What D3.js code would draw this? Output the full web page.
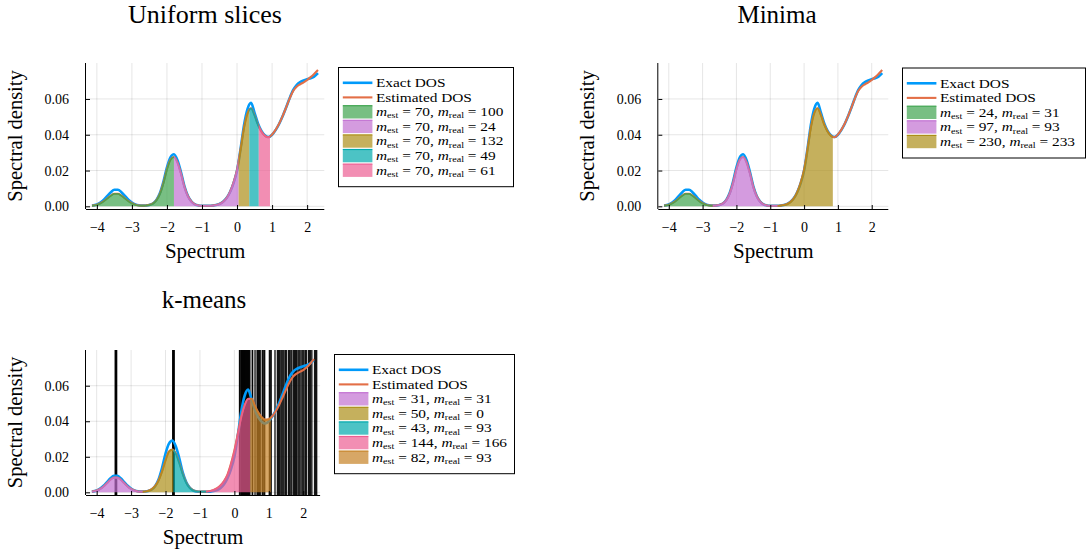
<!DOCTYPE html>
<html>
<head>
<meta charset="utf-8">
<script src="https://cdn.jsdelivr.net/npm/d3@7"></script>
<style>
  body { margin: 0; background: #fff; }
  svg text { font-family: "Liberation Serif", "Times New Roman", serif; fill: #000; }
</style>
</head>
<body>
<svg id="chart" width="1087" height="553"></svg>
<script>
// ---- data -----------------------------------------------------------------
const spectrum = [-4.14, -4.0, -3.9, -3.8, -3.7, -3.6, -3.5, -3.4, -3.3, -3.2, -3.1, -3.0,
  -2.9, -2.8, -2.7, -2.6, -2.5, -2.4, -2.3, -2.2, -2.1, -2.0, -1.9, -1.8, -1.7, -1.6, -1.5,
  -1.4, -1.3, -1.2, -1.1, -1.0, -0.9, -0.8, -0.7, -0.6, -0.5, -0.4, -0.3, -0.2, -0.1, 0.0,
  0.1, 0.2, 0.3, 0.4, 0.5, 0.6, 0.7, 0.8, 0.9, 1.0, 1.1, 1.2, 1.3, 1.4, 1.5, 1.6, 1.7, 1.8,
  1.9, 2.0, 2.1, 2.2, 2.31];

const exactDOS = [0.0004, 0.0010, 0.0021, 0.0037, 0.0058, 0.0079, 0.0093, 0.0093, 0.0079, 0.0058, 0.0037, 0.0021,
  0.0011, 0.0006, 0.0004, 0.0005, 0.0008, 0.0016, 0.0036, 0.0074, 0.0138, 0.0218, 0.0274, 0.0291, 0.0258, 0.0192, 0.0112,
  0.0058, 0.0027, 0.0011, 0.0005, 0.0003, 0.0003, 0.0003, 0.0004, 0.0007, 0.0013, 0.0025, 0.0046, 0.0080, 0.0130, 0.0200,
  0.0320, 0.0455, 0.0545, 0.0578, 0.0522, 0.0462, 0.0420, 0.0396, 0.0387, 0.0400, 0.0426, 0.0460, 0.0503, 0.0552, 0.0604, 0.0649, 0.0678, 0.0694,
  0.0703, 0.0710, 0.0716, 0.0725, 0.0744];

const estimatedDOS = [0.0004, 0.0009, 0.0017, 0.0029, 0.0045, 0.0060, 0.0070, 0.0070, 0.0060, 0.0045, 0.0029, 0.0017,
  0.0009, 0.0005, 0.0004, 0.0005, 0.0008, 0.0016, 0.0035, 0.0071, 0.0131, 0.0207, 0.0260, 0.0276, 0.0245, 0.0183, 0.0108,
  0.0056, 0.0026, 0.0011, 0.0005, 0.0003, 0.0003, 0.0003, 0.0004, 0.0007, 0.0013, 0.0025, 0.0046, 0.0081, 0.0133, 0.0205,
  0.0318, 0.0440, 0.0520, 0.0548, 0.0508, 0.0455, 0.0417, 0.0394, 0.0386, 0.0401, 0.0427, 0.0461, 0.0504, 0.0552, 0.0602, 0.0644, 0.0668, 0.0682,
  0.0693, 0.0706, 0.0722, 0.0740, 0.0762];

const estimatedDOSKmeans = [0.0004, 0.0010, 0.0019, 0.0033, 0.0052, 0.0071, 0.0083, 0.0083, 0.0071, 0.0052, 0.0033, 0.0019,
  0.0010, 0.0005, 0.0004, 0.0005, 0.0009, 0.0018, 0.0036, 0.0068, 0.0118, 0.0180, 0.0230, 0.0241, 0.0218, 0.0165, 0.0104,
  0.0056, 0.0027, 0.0012, 0.0006, 0.0004, 0.0004, 0.0005, 0.0008, 0.0014, 0.0024, 0.0040, 0.0064, 0.0100, 0.0160, 0.0235,
  0.0330, 0.0425, 0.0492, 0.0527, 0.0527, 0.0485, 0.0447, 0.0421, 0.0408, 0.0411, 0.0428, 0.0456, 0.0492, 0.0534, 0.0578, 0.0620, 0.0650, 0.0667,
  0.0678, 0.0688, 0.0704, 0.0724, 0.0750];

const xTicks = [-4, -3, -2, -1, 0, 1, 2];
const yTicks = [0.00, 0.02, 0.04, 0.06];

// slice boundaries and (estimated, real) eigenvalue counts per slice
const uniformEdges = [-4.14, -1.80, 0.045, 0.35, 0.62, 0.94];
const uniformCounts = [[70, 100], [70, 24], [70, 132], [70, 49], [70, 61]];

const minimaEdges = [-4.14, -2.70, -0.78, 0.85];
const minimaCounts = [[24, 31], [97, 93], [230, 233]];

const kmeansEdges = [-4.14, -2.66, -1.77, -0.82, 0.46, 1.06];
const kmeansCounts = [[31, 31], [50, 0], [43, 93], [144, 166], [82, 93]];

// positions marked with vertical lines in the k-means panel
const kmeansMarks = [-3.46, -3.45, -3.44, -3.43, -3.42, -1.79, -1.78, -1.77, -1.76, -1.75,
  0.15, 0.16, 0.19, 0.21, 0.22, 0.24, 0.25, 0.27, 0.28, 0.30, 0.31, 0.33, 0.34, 0.36, 0.37,
  0.39, 0.40, 0.42, 0.43, 0.45, 0.52, 0.53, 0.60, 0.66, 0.68, 0.70, 0.73, 0.75, 0.81, 0.83,
  0.86, 0.88, 1.02, 1.04, 1.07, 1.18, 1.25, 1.28, 1.31, 1.35, 1.38, 1.41, 1.44, 1.48, 1.51,
  1.57, 1.60, 1.64, 1.67, 1.72, 1.75, 1.78, 1.81, 1.85, 1.88, 1.91, 1.96, 1.99, 2.02, 2.06,
  2.09, 2.15, 2.18, 2.21, 2.25, 2.33, 2.36, 2.39];

// ---- styling ----------------------------------------------------------------
const C = {
  blue: "#009AFA", orange: "#E36F47", green: "#3EA44E", purple: "#C271D2",
  olive: "#AC8E18", teal: "#00A9AD", pink: "#ED5E93", brown: "#C68225"
};
const fillAlpha = 0.7;
const legendFont = 12.8;
const legendStretch = 1.2;

const svg = d3.select("#chart");
const defs = svg.append("defs");
let clipId = 0;

function addClip(x, y, w, h) {
  const id = "clip" + (clipId++);
  defs.append("clipPath").attr("id", id)
    .append("rect").attr("x", x).attr("y", y).attr("width", w).attr("height", h);
  return "url(#" + id + ")";
}

const fmtX = d => (d < 0 ? "\u2212" + Math.abs(d) : String(d));
const fmtY = d3.format(".2f");

function mathLabel(textSel, est, real) {
  const sub = (t) => textSel.append("tspan").attr("font-size", "66%").attr("dy", 2.2).text(t);
  textSel.append("tspan").attr("font-style", "italic").text("m");
  sub("est");
  textSel.append("tspan").attr("dy", -2.2).text(" = " + est + ", ");
  textSel.append("tspan").attr("font-style", "italic").text("m");
  sub("real");
  textSel.append("tspan").attr("dy", -2.2).text(" = " + real);
}

function drawPanel(p) {
  const g = svg.append("g");
  const x = d3.scaleLinear().domain([-4.31, 2.49]).range([p.left, p.right]);
  const y = d3.scaleLinear().domain([-0.0015, 0.0801]).range([p.bottom, p.top]);
  const pts = (vals) => spectrum.map((s, i) => [s, vals[i]]);

  // grid
  const grid = g.append("g").attr("stroke", "#000").attr("stroke-opacity", 0.1).attr("stroke-width", 1);
  grid.selectAll(".gx").data(xTicks).join("line")
    .attr("x1", d => x(d)).attr("x2", d => x(d)).attr("y1", p.top).attr("y2", p.bottom);
  grid.selectAll(".gy").data(yTicks).join("line")
    .attr("x1", p.left).attr("x2", p.right).attr("y1", d => y(d)).attr("y2", d => y(d));

  const plotClip = addClip(p.left, p.top, p.right - p.left, p.bottom - p.top);
  const body = g.append("g").attr("clip-path", plotClip);

  // vertical marks
  if (p.marks) {
    body.append("g").selectAll("line").data(p.marks).join("line")
      .attr("x1", d => x(d)).attr("x2", d => x(d))
      .attr("y1", p.top).attr("y2", p.bottom)
      .attr("stroke", "#000").attr("stroke-width", 1.4).attr("stroke-opacity", 0.9);
  }

  const line = d3.line().x(d => x(d[0])).y(d => y(d[1])).curve(d3.curveMonotoneX);
  const area = d3.area().x(d => x(d[0])).y0(y(0)).y1(d => y(d[1])).curve(d3.curveMonotoneX);

  body.append("path").attr("d", line(pts(exactDOS)))
    .attr("fill", "none").attr("stroke", C.blue).attr("stroke-width", 2.6);
  body.append("path").attr("d", line(pts(p.est)))
    .attr("fill", "none").attr("stroke", C.orange).attr("stroke-width", 2.1);

  // slices
  p.colors.forEach((col, i) => {
    const a = x(p.edges[i]), b = x(p.edges[i + 1]);
    const clip = addClip(a, p.top - 5, b - a, p.bottom - p.top + 10);
    const sg = body.append("g").attr("clip-path", clip);
    sg.append("path").attr("d", area(pts(p.est)))
      .attr("fill", col).attr("fill-opacity", fillAlpha);
    sg.append("path").attr("d", line(pts(p.est)))
      .attr("fill", "none").attr("stroke", col).attr("stroke-width", 1.6).attr("stroke-opacity", 0.75);
  });

  // axes
  const ax = g.append("g").attr("transform", `translate(0,${p.bottom})`)
    .call(d3.axisBottom(x).tickValues(xTicks).tickFormat(fmtX)
      .tickSizeInner(-4).tickSizeOuter(0).tickPadding(13.5));
  const ay = g.append("g").attr("transform", `translate(${p.left},0)`)
    .call(d3.axisLeft(y).tickValues(yTicks).tickFormat(fmtY)
      .tickSizeInner(-4).tickSizeOuter(0).tickPadding(17));
  [ax, ay].forEach(a => {
    a.attr("font-family", null).attr("font-size", null);
    a.select(".domain").attr("stroke", "#000").attr("stroke-width", 1);
    a.selectAll(".tick line").attr("stroke", "#000").attr("stroke-width", 1);
    a.selectAll(".tick text").attr("font-size", 14).attr("fill", "#000");
  });
  ax.select(".domain").attr("d", `M${p.left},0.5H${p.right}`);
  ay.select(".domain").attr("d", `M-0.5,${p.top}V${p.bottom}`);

  // titles
  g.append("text").attr("x", p.titleX).attr("y", p.titleY).attr("text-anchor", "middle")
    .attr("font-size", p.titleSize).text(p.title);
  g.append("text").attr("x", (p.left + p.right) / 2).attr("y", p.bottom + 49)
    .attr("text-anchor", "middle").attr("font-size", 21).text("Spectrum");
  g.append("text")
    .attr("transform", `translate(${p.left - 64},${(p.top + p.bottom) / 2}) rotate(-90)`)
    .attr("text-anchor", "middle").attr("font-size", 20.5).text("Spectral density");

  // legend
  const L = p.legend;
  const rows = 2 + p.colors.length;
  const rowH = 14.6;
  const lh = 15.8 * 2 + (rows - 1) * rowH;
  const lg = g.append("g");
  lg.append("rect").attr("x", L.x + 0.5).attr("y", L.y + 0.5).attr("width", L.w).attr("height", lh)
    .attr("fill", "#fff").attr("stroke", "#000").attr("stroke-width", 1);
  const sx = L.x + 4.8, sw = 29.6, tx = L.x + 38;
  const rowY = k => L.y + 15.8 + k * rowH;
  const legendText = (cy) => lg.append("text")
    .attr("transform", `translate(${tx},${cy}) scale(${legendStretch},1)`)
    .attr("dy", "0.33em").attr("font-size", legendFont);
  [[C.blue, "Exact DOS", 2.6], [C.orange, "Estimated DOS", 2.1]].forEach((e, k) => {
    lg.append("line").attr("x1", sx).attr("x2", sx + sw).attr("y1", rowY(k)).attr("y2", rowY(k))
      .attr("stroke", e[0]).attr("stroke-width", e[2]);
    legendText(rowY(k)).text(e[1]);
  });
  p.colors.forEach((col, i) => {
    const cy = rowY(i + 2);
    lg.append("rect").attr("x", sx).attr("y", cy - 6.3).attr("width", sw).attr("height", 12.8)
      .attr("fill", col).attr("fill-opacity", fillAlpha);
    lg.append("line").attr("x1", sx).attr("x2", sx + sw).attr("y1", cy - 6.3).attr("y2", cy - 6.3)
      .attr("stroke", col).attr("stroke-width", 1.2);
    mathLabel(legendText(cy), p.counts[i][0], p.counts[i][1]);
  });
}

drawPanel({
  title: "Uniform slices", titleX: 205, titleY: 23, titleSize: 26,
  left: 86, right: 324.3, top: 63, bottom: 209,
  est: estimatedDOS, edges: uniformEdges, counts: uniformCounts,
  colors: [C.green, C.purple, C.olive, C.teal, C.pink],
  legend: { x: 338, y: 67, w: 175 }
});

drawPanel({
  title: "Minima", titleX: 777, titleY: 23, titleSize: 25,
  left: 658.3, right: 888.3, top: 63, bottom: 209,
  est: estimatedDOS, edges: minimaEdges, counts: minimaCounts,
  colors: [C.green, C.purple, C.olive],
  legend: { x: 902, y: 67.5, w: 183 }
});

drawPanel({
  title: "k-means", titleX: 204, titleY: 308, titleSize: 25,
  left: 86, right: 320.1, top: 350, bottom: 495,
  est: estimatedDOSKmeans, edges: kmeansEdges, counts: kmeansCounts,
  colors: [C.purple, C.olive, C.teal, C.pink, C.brown],
  marks: kmeansMarks,
  legend: { x: 334, y: 354, w: 180 }
});
</script>
</body>
</html>
